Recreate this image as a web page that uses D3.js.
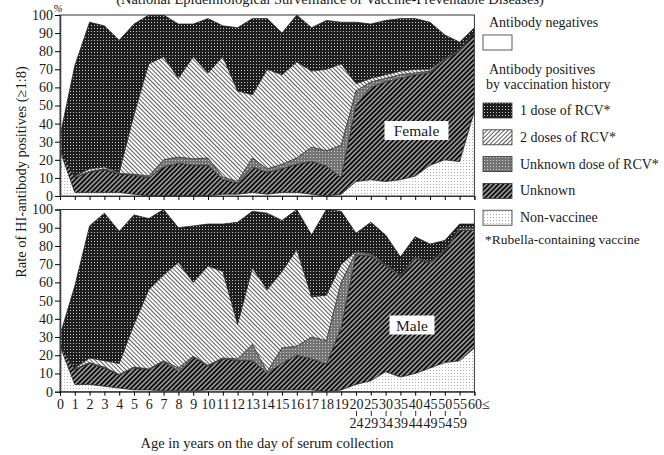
<!DOCTYPE html>
<html>
<head>
<meta charset="utf-8">
<script src="https://cdn.jsdelivr.net/npm/d3@7"></script>
<style>
  body { margin: 0; background: #fff; }
  text { font-family: "Liberation Serif", serif; fill: #1a1a1a; }
</style>
</head>
<body>
<svg id="chart" width="664" height="455"></svg>
<script>
// age groups (first row of labels) and the upper bound of the 5-year groups (second row)
var ages = ["0","1","2","3","4","5","6","7","8","9","10","11","12","13","14","15","16","17","18","19",
  "20","25","30","35","40","45","50","55","60"];
var agesTo = ["24","29","34","39","44","49","54","59"];

// Female, % of all tested, by vaccination history
var femaleNonVaccinee = [25,2,2,2,2,1,0,0,0,0,0,1,1,2,1,2,2,1,0,1,8,9,8,9,11,17,20,19,47];
var femaleUnknown     = [1,8,11,12.5,10,10.5,10,16,18,17,17,8,6,14,12,13,15.5,18,16.5,9,42,51,55,56,56,51,55,61,43];
var femaleUnknownDose = [0,0.5,0.5,0.5,0.5,0.5,1,4,3.5,3.5,4,1.5,1,5,2,2.5,3.5,8,8.5,18,8,3,2,2,1,1,0.5,0.5,0];
var femaleTwoDoses    = [0,0.5,1.5,1,0.5,33,62,57,43.5,56.5,47,66.5,50,35,55,49.5,53,42,45,45,4,2,2,2,2,1,0.5,0.5,0.5];
var femaleOneDose     = [7,61,81,78,73,50,27,23,30,18,30,17,35,42,28,23,26,24,27,23,34,30,30,29,28,26,13,4,2.5];

// Male
var maleNonVaccinee = [25,4,4,3,2,1,1,0.5,0.5,0.5,1,1,1,1,1,1,1,1,0,1,4,6,11,8,10,13,16,17,24];
var maleUnknown     = [1,8,11.5,10,7,12,11,16,10.5,18.5,13,17,16,16,9,14.5,19,17,15,34,71,68.5,58,55,63,57.5,61,71.5,64.5];
var maleUnknownDose = [0,0.5,0.5,0.5,0.5,0.5,0.5,0.5,2,0.5,0.5,0.5,1,9,1,8.5,5,12,13,25,1.5,1,0.5,0.5,0.5,0.5,0.5,1,1];
var maleTwoDoses    = [0,0.5,2.5,3.5,6,23.5,43.5,47,58,40.5,54.5,47.5,19,42,45,42,53,22,25,10,0.5,0.5,0.5,0.5,0.5,0.5,0.5,0.5,0.5];
var maleOneDose     = [5,45,72.5,81,72.5,60,39,36,19,31,23,26,56,31,42,28,22,34,47,29,10,17,16,10,11,9.5,5,2,2];

var keys = ["nonvac", "unknown", "unkdose", "twodose", "onedose"];
var legendNames = ["1 dose of RCV*", "2 doses of RCV*", "Unknown dose of RCV*", "Unknown", "Non-vaccinee"];
var legendKeys = ["onedose", "twodose", "unkdose", "unknown", "nonvac"];

var svg = d3.select("#chart");
var left = 60, right = 474.4;

// ---------- patterns ----------
var defs = svg.append("defs");
function dotPattern(id, bg, dot, size) {
  var p = defs.append("pattern").attr("id", id).attr("patternUnits", "userSpaceOnUse")
    .attr("width", size).attr("height", size);
  p.append("rect").attr("width", size).attr("height", size).attr("fill", bg);
  p.append("rect").attr("x", 1).attr("y", 1).attr("width", 1).attr("height", 1).attr("fill", dot);
}
function hatchPattern(id, bg, line, size, lw, angle) {
  var p = defs.append("pattern").attr("id", id).attr("patternUnits", "userSpaceOnUse")
    .attr("width", size).attr("height", size)
    .attr("patternTransform", "rotate(" + angle + ")");
  p.append("rect").attr("width", size).attr("height", size).attr("fill", bg);
  p.append("line").attr("x1", size / 2).attr("x2", size / 2).attr("y1", 0).attr("y2", size)
    .attr("stroke", line).attr("stroke-width", lw);
}
dotPattern("p-onedose", "#1e1e1e", "#c8c8c8", 3);
dotPattern("p-unkdose", "#747474", "#d0d0d0", 3);
dotPattern("p-nonvac", "#fff", "#b0b0b0", 3);
hatchPattern("p-twodose", "#fff", "#333", 3, 0.8, -45);
hatchPattern("p-twodose-leg", "#fff", "#333", 3, 0.8, 45);
hatchPattern("p-unknown", "#0c0c0c", "#fff", 3.4, 0.95, 45);

var fills = {
  nonvac: "url(#p-nonvac)", unknown: "url(#p-unknown)", unkdose: "url(#p-unkdose)",
  twodose: "url(#p-twodose)", onedose: "url(#p-onedose)"
};

var x = d3.scalePoint().domain(d3.range(ages.length)).range([left, right]);

var panels = [
  { name: "Female", top: 15, bottom: 196, lx: 416.5, ly: 131,
    series: [femaleNonVaccinee, femaleUnknown, femaleUnknownDose, femaleTwoDoses, femaleOneDose] },
  { name: "Male", top: 209.5, bottom: 391.7, lx: 412, ly: 325.5,
    series: [maleNonVaccinee, maleUnknown, maleUnknownDose, maleTwoDoses, maleOneDose] }
];

panels.forEach(function (pn, k) {
  var y = d3.scaleLinear().domain([0, 100]).range([pn.bottom, pn.top]);
  var rows = ages.map(function (a, i) {
    var r = { i: i };
    keys.forEach(function (key, j) { r[key] = pn.series[j][i]; });
    return r;
  });
  var stacked = d3.stack().keys(keys)(rows);

  var g = svg.append("g").attr("class", "panel");
  g.append("clipPath").attr("id", "clip" + k).append("rect")
    .attr("x", left).attr("y", pn.top).attr("width", right - left).attr("height", pn.bottom - pn.top);

  var body = g.append("g").attr("clip-path", "url(#clip" + k + ")");
  var area = d3.area()
    .x(function (d) { return x(d.data.i); })
    .y0(function (d) { return y(d[0]); })
    .y1(function (d) { return y(d[1]); });
  var line = d3.line()
    .x(function (d) { return x(d.data.i); })
    .y(function (d) { return y(d[1]); });

  body.selectAll("path.area").data(stacked).enter().append("path")
    .attr("class", "area")
    .attr("d", area)
    .attr("fill", function (d) { return fills[d.key]; });
  body.selectAll("path.edge").data(stacked).enter().append("path")
    .attr("class", "edge")
    .attr("d", line)
    .attr("fill", "none")
    .attr("stroke", "#222")
    .attr("stroke-width", 0.8);

  // frame
  g.append("rect").attr("x", left).attr("y", pn.top).attr("width", right - left)
    .attr("height", pn.bottom - pn.top).attr("fill", "none").attr("stroke", "#333").attr("stroke-width", 1);

  // y axis: major ticks outside, minor ticks inside
  var gY = g.append("g").attr("transform", "translate(" + left + ",0)")
    .call(d3.axisLeft(y).tickValues(d3.range(0, 101, 10)).tickSize(5).tickPadding(2));
  gY.selectAll("text").style("font-size", "14px").style("font-family", "Liberation Serif");
  gY.select(".domain").attr("stroke", "#333");
  var gYm = g.append("g").attr("transform", "translate(" + left + ",0)")
    .call(d3.axisRight(y).tickValues(d3.range(0, 101, 1)).tickSize(2).tickFormat(""));
  gYm.select(".domain").remove();
  gYm.selectAll("line").attr("stroke", "#555").attr("stroke-width", 0.6);

  // x axis
  var gX = g.append("g").attr("transform", "translate(0," + pn.bottom + ")")
    .call(d3.axisBottom(x).tickSize(4).tickPadding(3)
      .tickFormat(function (i) { return k === 1 ? ages[i] : ""; }));
  gX.select(".domain").attr("stroke", "#333");
  gX.selectAll("text").style("font-size", "14px").style("font-family", "Liberation Serif");
  if (k === 1) {
    gX.selectAll(".tick").filter(function (i) { return i === ages.length - 1; })
      .select("text").attr("text-anchor", "start").attr("x", -7).text("60\u2264");
  }

  // panel label
  var lb = g.append("g").attr("transform", "translate(" + pn.lx + "," + pn.ly + ")");
  var tw = pn.name === "Female" ? 64 : 45;
  lb.append("rect").attr("x", -tw / 2).attr("y", -10).attr("width", tw).attr("height", 19).attr("fill", "#fff");
  lb.append("text").attr("text-anchor", "middle").attr("y", 5).style("font-size", "15.5px").text(pn.name);
});

// second row of x labels for 5-year groups
var firstGroup = ages.indexOf("20");
var gX2 = svg.append("g").attr("transform", "translate(0,411)")
  .call(d3.axisBottom(x).tickValues(d3.range(firstGroup, firstGroup + agesTo.length))
    .tickSize(5).tickPadding(2)
    .tickFormat(function (i) { return agesTo[i - firstGroup]; }));
gX2.select(".domain").remove();
gX2.selectAll("line").attr("stroke", "#333");
gX2.selectAll("text").style("font-size", "14px").style("font-family", "Liberation Serif");

// titles
svg.append("text").attr("x", 330).attr("y", 4).attr("text-anchor", "middle").style("font-size", "14.5px")
  .text("(National Epidemiological Surveillance of Vaccine-Preventable Diseases)");
svg.append("text").attr("x", 58).attr("y", 12).attr("text-anchor", "middle").style("font-size", "11px")
  .style("font-style", "italic").text("%");
svg.append("text").attr("transform", "translate(26,172) rotate(-90)").attr("text-anchor", "middle")
  .style("font-size", "14.5px").text("Rate of HI-antibody positives (\u22651:8)");
svg.append("text").attr("x", 267).attr("y", 448).attr("text-anchor", "middle").style("font-size", "14.5px")
  .text("Age in years on the day of serum collection");

// legend
var lg = svg.append("g").attr("class", "legend");
lg.append("text").attr("x", 489).attr("y", 27).style("font-size", "14px").text("Antibody negatives");
lg.append("rect").attr("x", 483).attr("y", 35).attr("width", 29).attr("height", 15)
  .attr("fill", "#fff").attr("stroke", "#333").attr("stroke-width", 0.8);
lg.append("text").attr("x", 489).attr("y", 74).style("font-size", "14px").text("Antibody positives");
lg.append("text").attr("x", 486).attr("y", 89).style("font-size", "14px").text("by vaccination history");
legendKeys.forEach(function (key, i) {
  var yy = 103 + i * 26.8;
  lg.append("rect").attr("x", 483).attr("y", yy).attr("width", 29).attr("height", 15)
    .attr("fill", key === "twodose" ? "url(#p-twodose-leg)" : fills[key])
    .attr("stroke", "#333").attr("stroke-width", 0.8);
  lg.append("text").attr("x", 520).attr("y", yy + 12).style("font-size", "14px").text(legendNames[i]);
});
lg.append("text").attr("x", 485).attr("y", 244).style("font-size", "13.5px").text("*Rubella-containing vaccine");
</script>
</body>
</html>
